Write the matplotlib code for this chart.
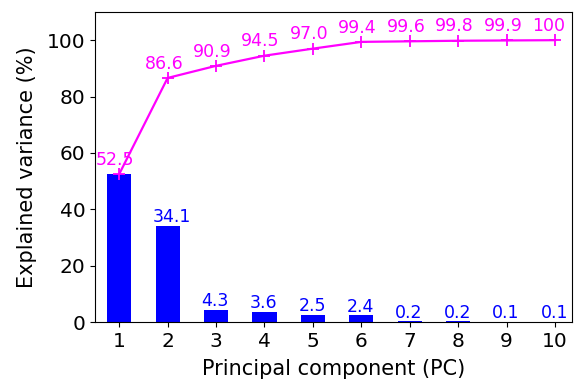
import matplotlib
matplotlib.use("Agg")
import matplotlib.pyplot as plt
import numpy as np

components = [1, 2, 3, 4, 5, 6, 7, 8, 9, 10]
explained = [52.5, 34.1, 4.3, 3.6, 2.5, 2.4, 0.2, 0.2, 0.1, 0.1]
cumulative = [52.5, 86.6, 90.9, 94.5, 97.0, 99.4, 99.6, 99.8, 99.9, 100]
cum_labels = ["52.5", "86.6", "90.9", "94.5", "97.0", "99.4", "99.6", "99.8", "99.9", "100"]
bar_labels = ["52.5", "34.1", "4.3", "3.6", "2.5", "2.4", "0.2", "0.2", "0.1", "0.1"]

fig = plt.figure(figsize=(5.74, 3.79), dpi=100)
ax = fig.add_axes([95/574, 1 - 322/379, (572-95)/574, (322-12)/379])

ax.bar(components, explained, width=0.5, color="#0000ff")
ax.plot(components, cumulative, color="#ff00ff", marker="+", markersize=8, linewidth=1.6, markeredgewidth=1.3)

# the first bar's label is hidden behind the cumulative label in the reference
for x, y, s in list(zip(components, explained, bar_labels))[1:]:
    ax.text(x - 0.3, y + 1.3, s, ha="left", va="baseline", color="#0000ff", fontsize=12.5)
for x, y, s in zip(components, cumulative, cum_labels):
    ax.text(x - 0.48, y + 3.3, s, ha="left", va="baseline", color="#ff00ff", fontsize=12.5)

ax.set_xlim(0.5, 10.35)
ax.set_ylim(0, 110)
ax.set_xticks(components)
ax.set_yticks([0, 20, 40, 60, 80, 100])
ax.tick_params(labelsize=14.5)
ax.set_xlabel("Principal component (PC)", fontsize=15, labelpad=6)
ax.set_ylabel("Explained variance (%)", fontsize=15, labelpad=7)

fig.savefig("out.png", dpi=100)
